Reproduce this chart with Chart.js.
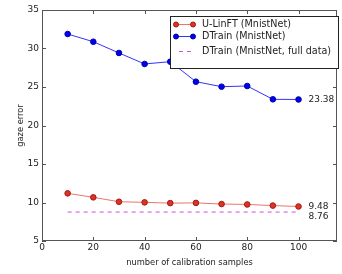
<!DOCTYPE html>
<html><head><meta charset="utf-8">
<script src="https://cdn.jsdelivr.net/npm/chart.js@4/dist/chart.umd.min.js"></script>
<style>html,body{margin:0;padding:0;background:#fff}#wrap{width:342px;height:274px}</style>
</head><body><div id="wrap"><canvas id="c" width="342" height="274"></canvas></div>
<script>
const samples = [10,20,30,40,50,60,70,80,90,100];
const ulinft = [11.19,10.67,10.1,10.02,9.92,9.95,9.8,9.75,9.6,9.48];
const dtrain = [31.88,30.88,29.42,27.99,28.29,25.69,25.04,25.13,23.4,23.38];
const dtrainFull = 8.76;
const xTicks = [0,20,40,60,80,100];
const yTicks = [5,10,15,20,25,30,35];
const labels = ['U-LinFT (MnistNet)','DTrain (MnistNet)','DTrain (MnistNet, full data)'];
const endLabels = [{v:23.38,t:'23.38'},{v:9.48,t:'9.48'},{v:8.76,t:'8.76'}];

const FONT = 'DejaVu Sans';
const pts = a => samples.map((x,i)=>({x:x,y:a[i]}));

const deco = {
  id:'deco',
  afterDraw(chart){
    const ctx = chart.ctx, xs = chart.scales.x, ys = chart.scales.y, ca = chart.chartArea;
    ctx.save();
    ctx.strokeStyle = '#555'; ctx.lineWidth = 1;
    ctx.strokeRect(Math.round(ca.left)+0.5, Math.round(ca.top)+0.5, Math.round(ca.right-ca.left)-1, Math.round(ca.bottom-ca.top)-1);
    ctx.beginPath();
    xTicks.forEach(v=>{ const p=Math.round(xs.getPixelForValue(v))+0.5;
      ctx.moveTo(p,ca.bottom); ctx.lineTo(p,ca.bottom-4); ctx.moveTo(p,ca.top); ctx.lineTo(p,ca.top+4); });
    yTicks.forEach(v=>{ const p=Math.round(ys.getPixelForValue(v))+0.5;
      ctx.moveTo(ca.left,p); ctx.lineTo(ca.left+4,p); ctx.moveTo(ca.right,p); ctx.lineTo(ca.right-4,p); });
    ctx.stroke();
    ctx.fillStyle = '#222'; ctx.font = '9px "'+FONT+'"'; ctx.textBaseline='middle'; ctx.textAlign='left';
    const ex = xs.getPixelForValue(samples[samples.length-1]) + 10;
    ctx.fillText(endLabels[0].t, ex, ys.getPixelForValue(endLabels[0].v));
    ctx.fillText(endLabels[1].t, ex, ys.getPixelForValue(endLabels[1].v));
    ctx.fillText(endLabels[2].t, ex, ys.getPixelForValue(endLabels[2].v)+5);
    // legend
    const lx = 170, ly = 16, lw = 168, lh = 52;
    ctx.fillStyle='#fff'; ctx.fillRect(lx,ly,lw,lh);
    ctx.strokeStyle='#222'; ctx.lineWidth=1; ctx.strokeRect(lx+0.5,ly+0.5,lw,lh);
    const rows=[23.5,36,51];
    chart.data.datasets.forEach((ds,i)=>{
      const y=Math.round(rows[i])+0.5;
      ctx.strokeStyle=ds.borderColor; ctx.lineWidth=1;
      if(i===2){ ctx.setLineDash([4,4]); }
      ctx.beginPath(); ctx.moveTo(i===2?179:176,y); ctx.lineTo(193,y); ctx.stroke(); ctx.setLineDash([]);
      if(i<2){ [176,193].forEach(px=>{ ctx.beginPath(); ctx.arc(px,y,2.5,0,Math.PI*2); ctx.fillStyle=ds.pointBackgroundColor; ctx.fill(); ctx.strokeStyle=ds.pointBorderColor; ctx.stroke(); }); }
      ctx.fillStyle='#222'; ctx.textAlign='left'; ctx.textBaseline='middle';
      ctx.font='9.6px "'+FONT+'"';
      ctx.fillText(ds.label, 202, y);
    });
    ctx.restore();
  }
};

new Chart(document.getElementById('c'),{
  type:'line',
  data:{datasets:[
    {label:labels[0], data:pts(ulinft), borderColor:'rgba(235,90,80,0.85)', borderWidth:1,
     pointBackgroundColor:'#dd3322', pointBorderColor:'#a01818', pointBorderWidth:1, pointRadius:2.8, tension:0},
    {label:labels[1], data:pts(dtrain), borderColor:'#3333ff', borderWidth:1,
     pointBackgroundColor:'#0000ee', pointBorderColor:'#0000aa', pointBorderWidth:1, pointRadius:2.8, tension:0},
    {label:labels[2], data:[{x:samples[0],y:dtrainFull},{x:samples[samples.length-1],y:dtrainFull}],
     borderColor:'#d050e0', borderWidth:1, borderDash:[4,4], pointRadius:0, tension:0}
  ]},
  plugins:[deco],
  options:{
    responsive:false, animation:false, devicePixelRatio:1,
    layout:{padding:{left:0,right:1,top:10,bottom:0}},
    plugins:{legend:{display:false}, tooltip:{enabled:false}},
    scales:{
      x:{type:'linear', min:0, max:115,
        afterBuildTicks(s){ s.ticks = xTicks.map(v=>({value:v})); },
        afterFit(s){ s.height = 33; },
        grid:{display:false, drawTicks:false}, border:{display:false},
        ticks:{color:'#222', font:{family:FONT,size:9}, padding:1, maxRotation:0},
        title:{display:true, text:'number of calibration samples', color:'#222', font:{family:FONT,size:8.3}, padding:{top:1,bottom:6}}},
      y:{type:'linear', min:5, max:35,
        afterBuildTicks(s){ s.ticks = yTicks.map(v=>({value:v})); },
        afterFit(s){ s.width = 42; },
        grid:{display:false, drawTicks:false}, border:{display:false},
        ticks:{color:'#222', font:{family:FONT,size:9}, padding:3},
        title:{display:true, text:'gaze error', color:'#222', font:{family:FONT,size:8.3}, padding:{top:16,bottom:0}}}
    }
  }
});
</script></body></html>
